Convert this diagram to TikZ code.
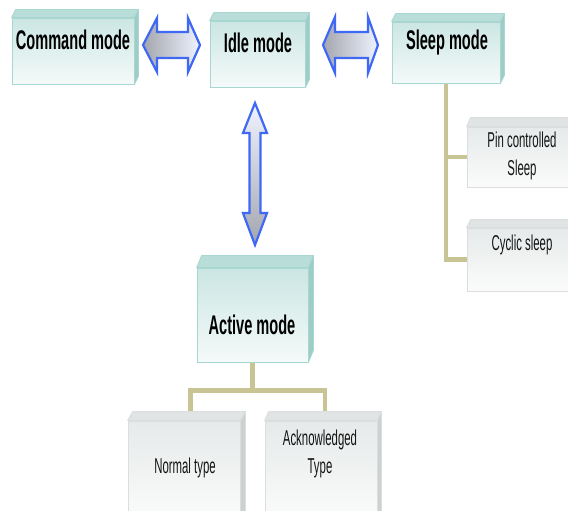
\documentclass[tikz,border=0pt]{standalone}
\usepackage{fontspec}
\newfontfamily\lblfont[FakeStretch=0.54]{Liberation Sans}
\newfontfamily\subfont[FakeStretch=0.53]{Liberation Sans}
\usetikzlibrary{calc,backgrounds}

\definecolor{tealedge}{HTML}{A8D6D0}
\definecolor{tealtop}{HTML}{B9DDD8}
\definecolor{tealside}{HTML}{9ECDC7}
\definecolor{tealfront}{HTML}{CBE6E3}
\definecolor{tealbottom}{HTML}{F4FAF9}
\definecolor{grayedge}{HTML}{DADEDE}
\definecolor{graytop}{HTML}{E0E4E4}
\definecolor{grayside}{HTML}{CDD1D1}
\definecolor{grayfront}{HTML}{E6EAEA}
\definecolor{graybottom}{HTML}{FBFBFB}
\definecolor{stemtan}{HTML}{C8C494}
\definecolor{arrowblue}{HTML}{3F68F5}
\definecolor{arrowgray}{HTML}{A4A6AE}
\definecolor{arrowlight}{HTML}{EEF3FF}

% top and right faces of a box drawn as a node: name, depth x, depth y, colour prefix
\newcommand{\boxfaces}[4]{%
  \filldraw[fill=#4top, draw=#4edge, line width=0.8pt, line join=round]
    (#1.north west) -- ++(#2,-#3) -- ($(#1.north east)+(#2,-#3)$) -- (#1.north east) -- cycle;
  \filldraw[fill=#4side, draw=#4edge, line width=0.8pt, line join=round]
    (#1.north east) -- ++(#2,-#3) -- ($(#1.south east)+(#2,-#3)$) -- (#1.south east) -- cycle;
}

\begin{document}
\begin{tikzpicture}[x=1pt,y=-1pt,
  tealbox/.style={draw=tealedge, line width=0.8pt, top color=tealfront, bottom color=tealbottom, inner sep=0pt},
  graybox/.style={draw=grayedge, line width=0.8pt, top color=grayfront, bottom color=graybottom, inner sep=0pt},
  head/.style={font=\lblfont\bfseries\fontsize{27}{30}\selectfont, text=black, inner sep=0pt},
  sub/.style={font=\subfont\fontsize{21.5}{28}\selectfont, text=black!92, align=center, inner sep=0pt},
  stem/.style={draw=stemtan, line width=4.5pt},
  blockarrow/.style={draw=arrowblue, line width=2.2pt, line join=miter},
]
\useasboundingbox (0,0) rectangle (568,511);
\clip (0,0) rectangle (568,511);

% mode boxes
\node[tealbox, minimum width=122pt, minimum height=66pt] (cmd) at (73,51) {};
\node[tealbox, minimum width=95pt, minimum height=66pt] (idle) at (257.5,54) {};
\node[tealbox, minimum width=108pt, minimum height=61pt] (sleep) at (446,52.5) {};
\node[tealbox, minimum width=111pt, minimum height=94pt] (act) at (252.5,315) {};
\boxfaces{cmd}{4}{8}{teal}
\boxfaces{idle}{4}{8}{teal}
\boxfaces{sleep}{4}{8}{teal}
\boxfaces{act}{5}{12}{teal}

% sub-mode boxes
\node[graybox, minimum width=110pt, minimum height=60pt] (pin) at (522,157) {};
\node[graybox, minimum width=110pt, minimum height=63pt] (cyc) at (522,259.5) {};
\node[graybox, minimum width=112pt, minimum height=100pt] (norm) at (184,471) {};
\node[graybox, minimum width=112pt, minimum height=100pt] (ack) at (321,471) {};
\boxfaces{pin}{4}{9}{gray}
\boxfaces{cyc}{4}{8}{gray}
\boxfaces{norm}{5}{9}{gray}
\boxfaces{ack}{4}{9}{gray}

% labels
\node[head] (cmd-t) at (73,40) {Command mode};
\node[head] (idle-t) at (258,43) {Idle mode};
\node[head] (sleep-t) at (447,43) {Sleep mode};
\node[head] (act-t) at (252,325) {Active mode};
\node[sub] (pin-t) at (522,156) {Pin controlled\\Sleep};
\node[sub] (cyc-t) at (522,245) {Cyclic sleep};
\node[sub] (norm-t) at (185,468) {Normal type};
\node[sub] (ack-t) at (320,454) {Acknowledged\\Type};

% double block arrows between modes
\coordinate (a1l) at (143,45);
\coordinate (a1r) at (200,45);
\coordinate (a2l) at (323,45);
\coordinate (a2r) at (378,45);
\coordinate (a3t) at (255,103);
\coordinate (a3b) at (255,245);

\filldraw[blockarrow, left color=arrowgray, right color=arrowlight]
  (a1l) -- ++(14,-27) -- ++(0,14) -- ($(a1r)+(-12,-13)$) -- ++(0,-14) -- (a1r)
  -- ++(-12,27) -- ++(0,-14) -- ($(a1l)+(14,13)$) -- ++(0,14) -- cycle;
\filldraw[blockarrow, left color=arrowgray, right color=arrowlight]
  (a2l) -- ++(12,-28) -- ++(0,15) -- ($(a2r)+(-10,-13)$) -- ++(0,-15) -- (a2r)
  -- ++(-10,28) -- ++(0,-15) -- ($(a2l)+(12,13)$) -- ++(0,15) -- cycle;
\filldraw[blockarrow, top color=arrowlight, bottom color=arrowgray]
  (a3t) -- ++(12,30) -- ++(-6.5,0) -- ($(a3b)+(5.5,-32)$) -- ++(6.5,0) -- (a3b)
  -- ++(-12,-32) -- ++(6.5,0) -- ($(a3t)+(-5.5,30)$) -- ++(-6.5,0) -- cycle;

% tree connectors behind the boxes
\begin{scope}[on background layer]
  \fill[white] (0,0) rectangle (568,511);
  \draw[stem] (sleep.south) |- (pin.west);
  \draw[stem] (sleep.south) |- (cyc.west);
  \draw[stem] (act.south) -- ++(0,28) coordinate (actbar);
  \draw[stem] ([xshift=6.5pt]norm.north) |- (actbar) -| ([xshift=4pt]ack.north);
\end{scope}
\end{tikzpicture}
\end{document}
